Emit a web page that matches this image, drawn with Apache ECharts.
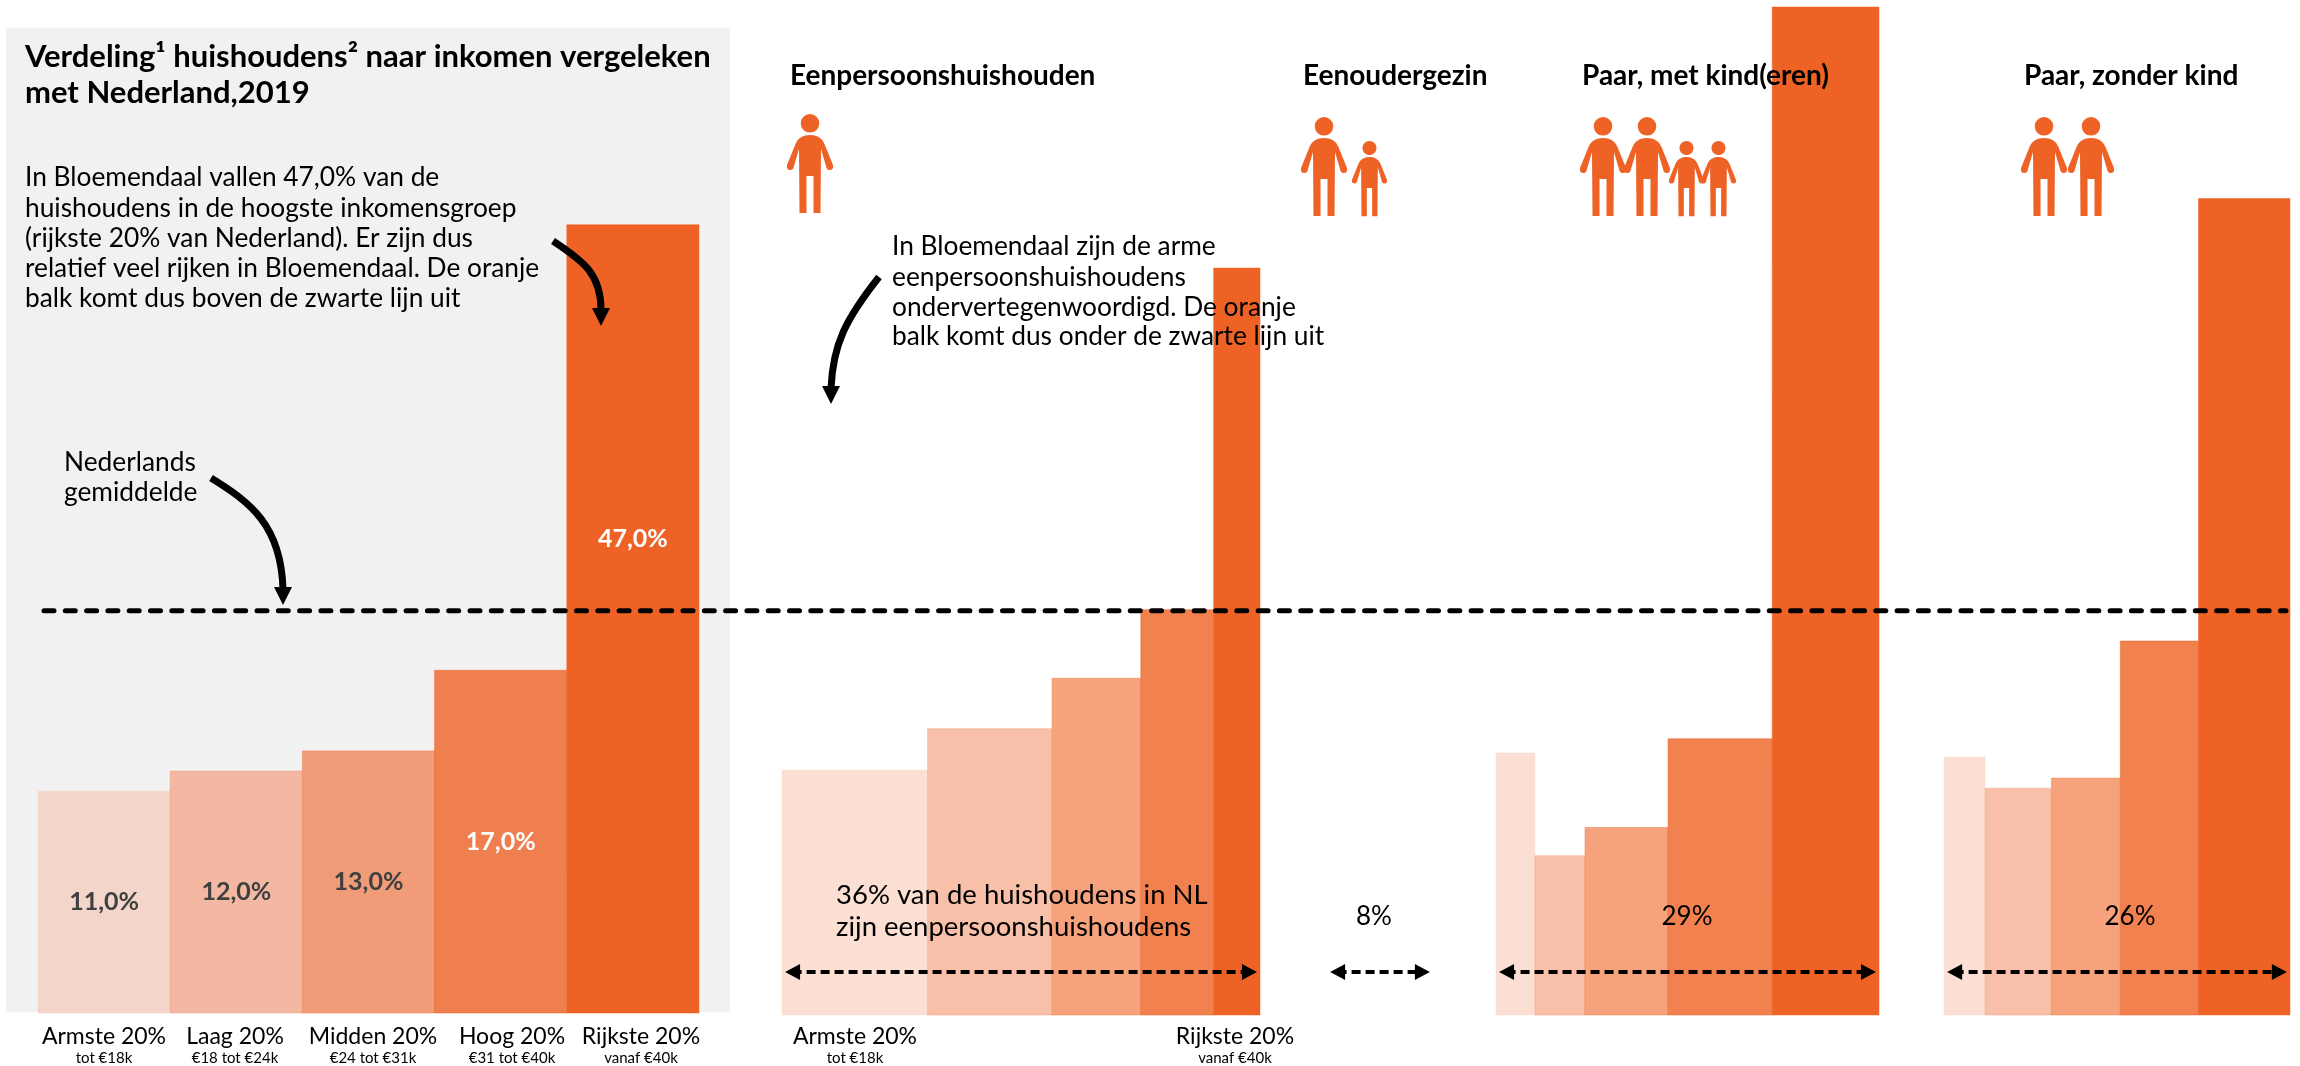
<!DOCTYPE html>
<html>
<head>
<meta charset="utf-8">
<style>
  html, body { margin: 0; padding: 0; background: #fff; }
  #chart { width: 2300px; height: 1066px; }
</style>
<script src="https://cdn.jsdelivr.net/npm/echarts@6/dist/echarts.min.js"></script>
</head>
<body>
<div id="chart"></div>
<script>
// kolomhoogte (index, NL = 20) en kolombreedte (aandeel huishoudens)
var bloemendaalHeights = [11, 12, 13, 17, 39.1];
var bloemendaalWidths = [20, 20, 20, 20, 20];
var bloemendaalLabels = ['11,0%', '12,0%', '13,0%', '17,0%', '47,0%'];

var eenpersoonHeights = [12.15, 14.2, 16.7, 20.1, 37.05];
var eenpersoonWidths = [11, 9.4, 6.7, 5.5, 3.5];

var paarMetKindHeights = [13, 7.9, 9.3, 13.7, 50];
var paarMetKindWidths = [2.95, 3.8, 6.3, 7.9, 8.1];

var paarZonderKindHeights = [12.8, 11.25, 11.75, 18.55, 40.5];
var paarZonderKindWidths = [3.1, 5, 5.2, 5.9, 6.9];

var nlAverage = 20;
var shares = [36, 8, 29, 26];
var shareLabels = ['', '8%', '29%', '26%'];
var incomeGroups = ['Armste 20%', 'Laag 20%', 'Midden 20%', 'Hoog 20%', 'Rijkste 20%'];
var incomeRanges = ['tot €18k', '€18 tot €24k', '€24 tot €31k', '€31 tot €40k', 'vanaf €40k'];

var colorsGrey = ['#F3D5C9', '#F2B8A1', '#F09C78', '#EF7F4F', '#EE6325'];
var colorsWhite = ['#FBDFD3', '#F8C0A8', '#F5A27D', '#F1814F', '#EE6325'];

var FONT = 'Lato';
var YMAX = 50, GRID_H = 1008;
var PX_PER_SHARE = 13.25;

var chart = echarts.init(document.getElementById('chart'));

function sum(a) {
  return a.reduce(function (s, v) { return s + v; }, 0);
}

function mekkoData(heights, widths) {
  var x = 0, out = [];
  heights.forEach(function (h, i) {
    out.push([x, x + widths[i], h, i]);
    x += widths[i];
  });
  return out;
}

function mekkoSeries(idx, heights, widths, colors, labels) {
  return {
    type: 'custom',
    xAxisIndex: idx,
    yAxisIndex: idx,
    silent: true,
    clip: false,
    z: 2,
    encode: { x: [0, 1], y: 2 },
    data: mekkoData(heights, widths),
    renderItem: function (params, api) {
      var i = api.value(3);
      var a = api.coord([api.value(0), api.value(2)]);
      var b = api.coord([api.value(1), 0]);
      var kids = [{
        type: 'rect',
        shape: { x: a[0], y: a[1], width: b[0] - a[0], height: b[1] - a[1] },
        style: { fill: colors[i], stroke: i > 0 && i < 4 ? colors[i + 1] : colors[i], lineWidth: 0.5, opacity: 1 }
      }];
      if (labels) {
        // label van de hoogste kolom staat niet in het midden
        var ly = i === 4 ? 23.5 : api.value(2) / 2;
        var c = api.coord([(api.value(0) + api.value(1)) / 2, ly]);
        kids.push({
          type: 'text',
          style: {
            x: c[0], y: c[1], text: labels[i], align: 'center', verticalAlign: 'middle',
            fill: i < 3 ? '#404040' : '#fff', font: 'bold 25px ' + FONT
          }
        });
      }
      return { type: 'group', children: kids };
    }
  };
}

function doubleArrow(idx, share) {
  return {
    type: 'line',
    xAxisIndex: idx,
    yAxisIndex: idx,
    data: [],
    silent: true,
    z: 5,
    markLine: {
      silent: true,
      animation: false,
      symbol: ['triangle', 'triangle'],
      symbolSize: [16, 15],
      label: { show: false },
      lineStyle: { color: '#000', width: 4, type: [9, 5] },
      data: [[{ coord: [0.8, 2.13] }, { coord: [share - 0.8, 2.13] }]]
    }
  };
}

var grids = [
  { left: 38, top: 5, width: 661, height: GRID_H },
  { left: 782, top: 7, width: 478, height: GRID_H },
  { left: 1327, top: 7, width: shares[1] * PX_PER_SHARE, height: GRID_H },
  { left: 1496, top: 7, width: 383, height: GRID_H },
  { left: 1944, top: 7, width: 346, height: GRID_H },
  { left: 44, top: 6, width: 2242, height: GRID_H }
];
var xMax = [sum(bloemendaalWidths), sum(eenpersoonWidths), shares[1], sum(paarMetKindWidths), sum(paarZonderKindWidths), 1];

var PERSON = 'M13.7 9.3 A9.3 9.3 0 1 1 32.3 9.3 A9.3 9.3 0 1 1 13.7 9.3 Z ' +
  'M23 21 C30 21 35 24 37.5 30 L46 51 Q47 56 42.5 56 Q39.5 56 39 52 L34 35 L33.5 99 L26.5 99 L26.5 62 L19.5 62 L19.5 99 L12.5 99 L12 35 L7 52 Q6.5 56 3.5 56 Q-1 56 0 51 L8.5 30 C11 24 16 21 23 21 Z';
var peoplePlaces = [
  [787, 114, 1],
  [1301, 117, 1], [1352, 141, 0.76],
  [1580, 117, 1], [1624, 117, 1], [1669, 141, 0.76], [1701, 141, 0.76],
  [2021, 117, 1], [2068, 117, 1]
];

function txt(x, y, text, size, weight, align) {
  return {
    type: 'text', x: x, y: y, z: 100, silent: true,
    style: {
      text: text, fill: '#000', align: align || 'left', verticalAlign: 'middle',
      font: (weight || 'normal') + ' ' + size + 'px ' + FONT
    }
  };
}

function curve(x1, y1, cx1, cy1, cx2, cy2, x2, y2) {
  return [
    {
      type: 'bezierCurve', z: 60, silent: true,
      shape: { x1: x1, y1: y1, cpx1: cx1, cpy1: cy1, cpx2: cx2, cpy2: cy2, x2: x2, y2: y2 - 16 },
      style: { stroke: '#000', lineWidth: 7, fill: 'none' }
    },
    {
      type: 'polygon', z: 60, silent: true,
      shape: { points: [[x2 - 9, y2 - 18], [x2 + 9, y2 - 18], [x2, y2]] },
      style: { fill: '#000' }
    }
  ];
}

var graphics = [
  { type: 'rect', z: -10, silent: true, shape: { x: 6, y: 28, width: 724, height: 984 }, style: { fill: '#F1F1F1' } },

  txt(25, 57, 'Verdeling¹ huishoudens² naar inkomen vergeleken', 31, 'bold'),
  txt(25, 93, 'met Nederland,2019', 31, 'bold'),

  txt(25, 178, 'In Bloemendaal vallen 47,0% van de', 26.3),
  txt(25, 209, 'huishoudens in de hoogste inkomensgroep', 26.3),
  txt(25, 239, '(rijkste 20% van Nederland). Er zijn dus', 26.3),
  txt(25, 269, 'relatief veel rijken in Bloemendaal. De oranje', 26.3),
  txt(25, 299, 'balk komt dus boven de zwarte lijn uit', 26.3),

  txt(64, 463, 'Nederlands', 26.3),
  txt(64, 493, 'gemiddelde', 26.3),

  txt(790, 76, 'Eenpersoonshuishouden', 28, 'bold'),
  txt(1303, 76, 'Eenoudergezin', 28, 'bold'),
  txt(1582, 76, 'Paar, met kind(eren)', 28, 'bold'),
  txt(2024, 76, 'Paar, zonder kind', 28, 'bold'),

  txt(892, 247, 'In Bloemendaal zijn de arme', 26.3),
  txt(892, 278, 'eenpersoonshuishoudens', 26.3),
  txt(892, 308, 'ondervertegenwoordigd. De oranje', 26.3),
  txt(892, 337, 'balk komt dus onder de zwarte lijn uit', 26.3),

  txt(836, 895, '36% van de huishoudens in NL', 27.5),
  txt(836, 927, 'zijn eenpersoonshuishoudens', 27.5),

  txt(1374, 917, shareLabels[1], 26, 'normal', 'center'),
  txt(1687, 917, shareLabels[2], 26, 'normal', 'center'),
  txt(2130, 917, shareLabels[3], 26, 'normal', 'center')
];

// kolomlabels onder de panelen
var groupX = [104, 235, 373, 512, 641];
incomeGroups.forEach(function (g, i) {
  graphics.push(txt(groupX[i], 1037, g, 23, 'normal', 'center'));
  graphics.push(txt(groupX[i], 1058, incomeRanges[i], 15, 'normal', 'center'));
});
graphics.push(txt(855, 1037, incomeGroups[0], 23, 'normal', 'center'));
graphics.push(txt(855, 1058, incomeRanges[0], 15, 'normal', 'center'));
graphics.push(txt(1235, 1037, incomeGroups[4], 23, 'normal', 'center'));
graphics.push(txt(1235, 1058, incomeRanges[4], 15, 'normal', 'center'));

graphics = graphics
  .concat(curve(553, 241, 585, 262, 601, 275, 601, 326))
  .concat(curve(211, 478, 250, 502, 281, 525, 283, 605))
  .concat(curve(879, 277, 845, 320, 833, 345, 831, 404));

var option = {
  animation: false,
  backgroundColor: '#fff',
  grid: grids,
  xAxis: grids.map(function (g, i) {
    return { type: 'value', gridIndex: i, min: 0, max: xMax[i], show: false };
  }),
  yAxis: grids.map(function (g, i) {
    return { type: 'value', gridIndex: i, min: 0, max: YMAX, show: false };
  }),
  graphic: graphics,
  series: [
    mekkoSeries(0, bloemendaalHeights, bloemendaalWidths, colorsGrey, bloemendaalLabels),
    mekkoSeries(1, eenpersoonHeights, eenpersoonWidths, colorsWhite),
    mekkoSeries(3, paarMetKindHeights, paarMetKindWidths, colorsWhite),
    mekkoSeries(4, paarZonderKindHeights, paarZonderKindWidths, colorsWhite),
    doubleArrow(1, sum(eenpersoonWidths)),
    doubleArrow(2, shares[1]),
    doubleArrow(3, sum(paarMetKindWidths)),
    doubleArrow(4, sum(paarZonderKindWidths)),
    {
      // Nederlands gemiddelde
      type: 'line',
      xAxisIndex: 5,
      yAxisIndex: 5,
      z: 6,
      silent: true,
      symbol: 'none',
      lineStyle: { color: '#000', width: 5, type: [10, 11.3], cap: 'round' },
      data: [[0, nlAverage], [1, nlAverage]]
    },
    {
      // poppetjes
      type: 'custom',
      coordinateSystem: 'none',
      silent: true,
      z: 50,
      data: peoplePlaces,
      renderItem: function (params, api) {
        var s = api.value(2);
        return {
          type: 'path',
          x: api.value(0),
          y: api.value(1),
          scaleX: s,
          scaleY: s,
          shape: { pathData: PERSON },
          style: { fill: '#EE6325' }
        };
      }
    }
  ]
};
chart.setOption(option);
</script>
</body>
</html>
